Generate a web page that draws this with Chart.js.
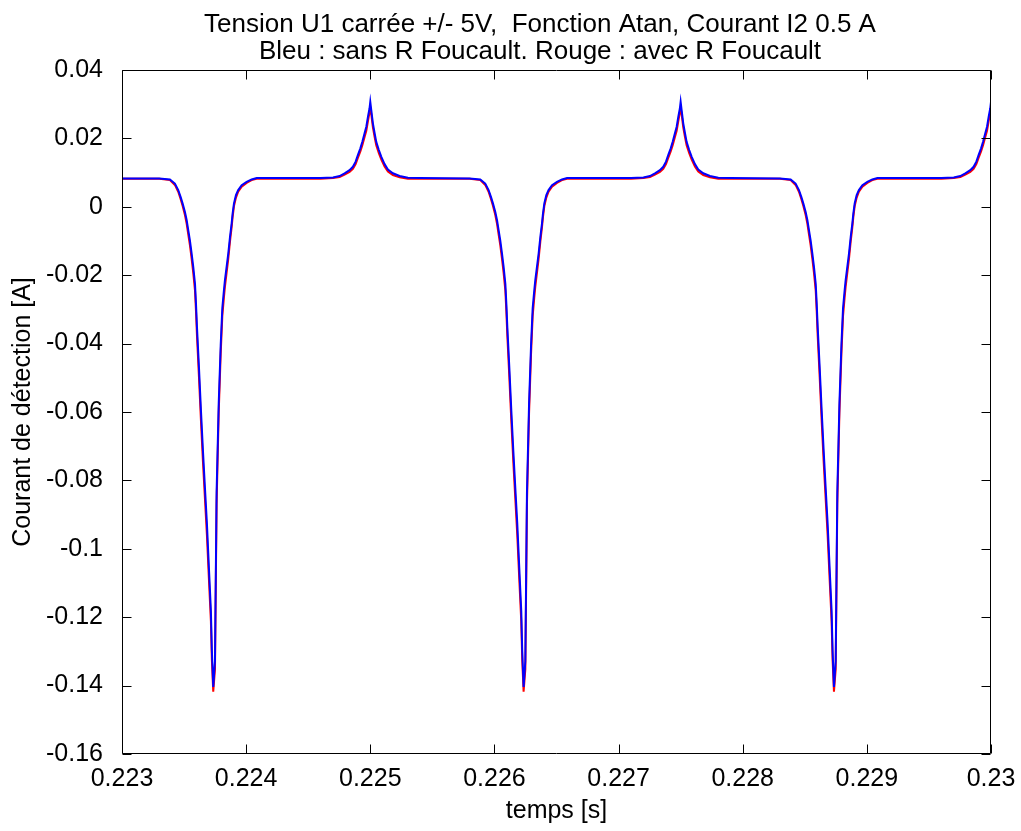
<!DOCTYPE html>
<html>
<head>
<meta charset="utf-8">
<script src="https://cdn.jsdelivr.net/npm/chart.js@4.4.1/dist/chart.umd.min.js"></script>
<style>
  html, body { margin: 0; padding: 0; background: #ffffff; }
  #wrap { width: 1021px; height: 831px; }
</style>
</head>
<body>
<div id="wrap"><canvas id="c" width="1021" height="831"></canvas></div>
<script>
// ---- text ----
const titleLines = [
  'Tension U1 carrée +/- 5V,  Fonction Atan, Courant I2 0.5 A',
  'Bleu : sans R Foucault. Rouge : avec R Foucault'
];
const xAxisTitle = 'temps [s]';
const yAxisTitle = 'Courant de détection [A]';

// ---- axes ----
const xTickValues = [0.223, 0.224, 0.225, 0.226, 0.227, 0.228, 0.229, 0.23];
const xTickLabels = ['0.223', '0.224', '0.225', '0.226', '0.227', '0.228', '0.229', '0.23'];
const yTickValues = [0.04, 0.02, 0, -0.02, -0.04, -0.06, -0.08, -0.1, -0.12, -0.14, -0.16];
const yTickLabels = ['0.04', '0.02', '0', '-0.02', '-0.04', '-0.06', '-0.08', '-0.1', '-0.12', '-0.14', '-0.16'];

// ---- measured current (time in s, current in A) ----
const timeS = [
  0.223000, 0.223300, 0.223386, 0.223426, 0.223453, 0.223472, 0.223488, 0.223507, 0.223521, 0.223534,
  0.223547, 0.223561, 0.223574, 0.223588, 0.223596, 0.223604, 0.223620, 0.223636, 0.223652, 0.223668,
  0.223684, 0.223700, 0.223716, 0.223724, 0.223735, 0.223749, 0.223762, 0.223779, 0.223795, 0.223808,
  0.223821, 0.223829, 0.223856, 0.223870, 0.223883, 0.223891, 0.223902, 0.223918, 0.223936, 0.223964,
  0.224004, 0.224044, 0.224085, 0.224600, 0.224700, 0.224753, 0.224793, 0.224833, 0.224860, 0.224882,
  0.224900, 0.224920, 0.224936, 0.224954, 0.224968, 0.224981, 0.224994, 0.225000, 0.225008, 0.225021,
  0.225035, 0.225048, 0.225069, 0.225089, 0.225115, 0.225142, 0.225182, 0.225236, 0.225303, 0.225400,

  0.225800, 0.225886, 0.225926, 0.225953, 0.225972, 0.225988, 0.226007, 0.226021, 0.226034,
  0.226047, 0.226061, 0.226074, 0.226088, 0.226096, 0.226104, 0.226120, 0.226136, 0.226152, 0.226168,
  0.226184, 0.226200, 0.226216, 0.226224, 0.226235, 0.226249, 0.226262, 0.226279, 0.226295, 0.226308,
  0.226321, 0.226329, 0.226356, 0.226370, 0.226383, 0.226391, 0.226402, 0.226418, 0.226436, 0.226464,
  0.226504, 0.226544, 0.226585, 0.227100, 0.227200, 0.227253, 0.227293, 0.227333, 0.227360, 0.227382,
  0.227400, 0.227420, 0.227436, 0.227454, 0.227468, 0.227481, 0.227494, 0.227500, 0.227508, 0.227521,
  0.227535, 0.227548, 0.227569, 0.227589, 0.227615, 0.227642, 0.227682, 0.227736, 0.227803, 0.227900,

  0.228300, 0.228386, 0.228426, 0.228453, 0.228472, 0.228488, 0.228507, 0.228521, 0.228534,
  0.228547, 0.228561, 0.228574, 0.228588, 0.228596, 0.228604, 0.228620, 0.228636, 0.228652, 0.228668,
  0.228684, 0.228700, 0.228716, 0.228724, 0.228735, 0.228749, 0.228762, 0.228779, 0.228795, 0.228808,
  0.228821, 0.228829, 0.228856, 0.228870, 0.228883, 0.228891, 0.228902, 0.228918, 0.228936, 0.228964,
  0.229004, 0.229044, 0.229085, 0.229600, 0.229700, 0.229753, 0.229793, 0.229833, 0.229860, 0.229882,
  0.229900, 0.229920, 0.229936, 0.229954, 0.229968, 0.229981, 0.229994, 0.230000
];

// without eddy-current resistance
const currentBlue = [
  0.0083, 0.0083, 0.0080, 0.0068, 0.0049, 0.0029, 0.0010, -0.0015, -0.0039, -0.0069,
  -0.0098, -0.0137, -0.0176, -0.0225, -0.0283, -0.0352, -0.0470, -0.0596, -0.0713, -0.0821,
  -0.0926, -0.1055, -0.1181, -0.1298, -0.1404, -0.1328, -0.0836, -0.0575, -0.0405, -0.0297,
  -0.0244, -0.0215, -0.0137, -0.0088, -0.0049, -0.0020, 0.0010, 0.0034, 0.0049, 0.0063,
  0.0073, 0.0080, 0.0084, 0.0084, 0.0086, 0.0090, 0.0098, 0.0107, 0.0117, 0.0132,
  0.0151, 0.0171, 0.0190, 0.0215, 0.0234, 0.0263, 0.0288, 0.0307, 0.0283, 0.0244,
  0.0215, 0.0190, 0.0166, 0.0146, 0.0125, 0.0109, 0.0098, 0.0090, 0.0085, 0.0084,

  0.0083, 0.0080, 0.0068, 0.0049, 0.0029, 0.0010, -0.0015, -0.0039, -0.0069,
  -0.0098, -0.0137, -0.0176, -0.0225, -0.0283, -0.0352, -0.0470, -0.0596, -0.0713, -0.0821,
  -0.0926, -0.1055, -0.1181, -0.1298, -0.1404, -0.1328, -0.0836, -0.0575, -0.0405, -0.0297,
  -0.0244, -0.0215, -0.0137, -0.0088, -0.0049, -0.0020, 0.0010, 0.0034, 0.0049, 0.0063,
  0.0073, 0.0080, 0.0084, 0.0084, 0.0086, 0.0090, 0.0098, 0.0107, 0.0117, 0.0132,
  0.0151, 0.0171, 0.0190, 0.0215, 0.0234, 0.0263, 0.0288, 0.0307, 0.0283, 0.0244,
  0.0215, 0.0190, 0.0166, 0.0146, 0.0125, 0.0109, 0.0098, 0.0090, 0.0085, 0.0084,

  0.0083, 0.0080, 0.0068, 0.0049, 0.0029, 0.0010, -0.0015, -0.0039, -0.0069,
  -0.0098, -0.0137, -0.0176, -0.0225, -0.0283, -0.0352, -0.0470, -0.0596, -0.0713, -0.0821,
  -0.0926, -0.1055, -0.1181, -0.1298, -0.1404, -0.1328, -0.0836, -0.0575, -0.0405, -0.0297,
  -0.0244, -0.0215, -0.0137, -0.0088, -0.0049, -0.0020, 0.0010, 0.0034, 0.0049, 0.0063,
  0.0073, 0.0080, 0.0084, 0.0084, 0.0086, 0.0090, 0.0098, 0.0107, 0.0117, 0.0132,
  0.0151, 0.0171, 0.0190, 0.0215, 0.0234, 0.0263, 0.0288, 0.0307
];

// with eddy-current resistance
const currentRed = [
  0.0082, 0.0082, 0.0078, 0.0064, 0.0044, 0.0023, 0.0003, -0.0024, -0.0050, -0.0081,
  -0.0112, -0.0152, -0.0193, -0.0245, -0.0305, -0.0378, -0.0498, -0.0626, -0.0745, -0.0853,
  -0.0960, -0.1088, -0.1212, -0.1325, -0.1418, -0.1352, -0.0868, -0.0603, -0.0430, -0.0320,
  -0.0265, -0.0234, -0.0152, -0.0101, -0.0060, -0.0030, 0.0002, 0.0027, 0.0044, 0.0059,
  0.0070, 0.0078, 0.0082, 0.0082, 0.0084, 0.0087, 0.0094, 0.0102, 0.0111, 0.0125,
  0.0143, 0.0162, 0.0180, 0.0204, 0.0222, 0.0250, 0.0276, 0.0290, 0.0270, 0.0232,
  0.0204, 0.0180, 0.0157, 0.0138, 0.0118, 0.0103, 0.0093, 0.0086, 0.0082, 0.0082,

  0.0082, 0.0078, 0.0064, 0.0044, 0.0023, 0.0003, -0.0024, -0.0050, -0.0081,
  -0.0112, -0.0152, -0.0193, -0.0245, -0.0305, -0.0378, -0.0498, -0.0626, -0.0745, -0.0853,
  -0.0960, -0.1088, -0.1212, -0.1325, -0.1418, -0.1352, -0.0868, -0.0603, -0.0430, -0.0320,
  -0.0265, -0.0234, -0.0152, -0.0101, -0.0060, -0.0030, 0.0002, 0.0027, 0.0044, 0.0059,
  0.0070, 0.0078, 0.0082, 0.0082, 0.0084, 0.0087, 0.0094, 0.0102, 0.0111, 0.0125,
  0.0143, 0.0162, 0.0180, 0.0204, 0.0222, 0.0250, 0.0276, 0.0290, 0.0270, 0.0232,
  0.0204, 0.0180, 0.0157, 0.0138, 0.0118, 0.0103, 0.0093, 0.0086, 0.0082, 0.0082,

  0.0082, 0.0078, 0.0064, 0.0044, 0.0023, 0.0003, -0.0024, -0.0050, -0.0081,
  -0.0112, -0.0152, -0.0193, -0.0245, -0.0305, -0.0378, -0.0498, -0.0626, -0.0745, -0.0853,
  -0.0960, -0.1088, -0.1212, -0.1325, -0.1418, -0.1352, -0.0868, -0.0603, -0.0430, -0.0320,
  -0.0265, -0.0234, -0.0152, -0.0101, -0.0060, -0.0030, 0.0002, 0.0027, 0.0044, 0.0059,
  0.0070, 0.0078, 0.0082, 0.0082, 0.0084, 0.0087, 0.0094, 0.0102, 0.0111, 0.0125,
  0.0143, 0.0162, 0.0180, 0.0204, 0.0222, 0.0250, 0.0276, 0.0290
];

const FONT_FAMILY = "'Liberation Sans', Arial, Helvetica, sans-serif";
Chart.defaults.font.family = FONT_FAMILY;
Chart.defaults.color = '#000000';

const toPoints = (vals) => timeS.map((t, i) => ({ x: t, y: vals[i] }));

// two-line title above the axes box
const titlePlugin = {
  id: 'twoLineTitle',
  afterDraw(chart) {
    const ctx = chart.ctx;
    ctx.save();
    ctx.fillStyle = '#000';
    ctx.font = '26px ' + FONT_FAMILY;
    ctx.textAlign = 'center';
    ctx.textBaseline = 'alphabetic';
    ctx.fillText(titleLines[0], 540, 32);
    ctx.fillText(titleLines[1], 540, 59);
    ctx.restore();
  }
};

// box frame with inward tick marks on all four sides
const framePlugin = {
  id: 'boxFrame',
  afterDatasetsDraw(chart) {
    const { ctx, chartArea: a, scales: { x, y } } = chart;
    const L = Math.round(a.left) + 0.5, R = Math.round(a.right) - 0.5;
    const T = Math.round(a.top) + 0.5, B = Math.round(a.bottom) - 0.5;
    const tl = 9;
    ctx.save();
    ctx.strokeStyle = '#000';
    ctx.lineWidth = 1;
    ctx.beginPath();
    ctx.rect(L, T, R - L, B - T);
    x.ticks.forEach(t => {
      const px = Math.round(x.getPixelForValue(t.value)) + 0.5;
      ctx.moveTo(px, B); ctx.lineTo(px, B - tl);
      ctx.moveTo(px, T); ctx.lineTo(px, T + tl);
    });
    y.ticks.forEach(t => {
      const py = Math.round(y.getPixelForValue(t.value)) + 0.5;
      ctx.moveTo(L, py); ctx.lineTo(L + tl, py);
      ctx.moveTo(R, py); ctx.lineTo(R - tl, py);
    });
    ctx.stroke();
    ctx.restore();
  }
};

new Chart(document.getElementById('c'), {
  type: 'line',
  data: {
    datasets: [
      {
        label: 'sans R Foucault',
        data: toPoints(currentBlue),
        borderColor: '#0000ff',
        borderWidth: 2,
        pointRadius: 0,
        tension: 0,
        fill: false
      },
      {
        label: 'avec R Foucault',
        data: toPoints(currentRed),
        borderColor: '#ff0000',
        borderWidth: 2,
        pointRadius: 0,
        tension: 0,
        fill: false
      }
    ]
  },
  options: {
    responsive: false,
    animation: false,
    devicePixelRatio: 1,
    layout: { padding: { top: 70, right: 30, bottom: 0, left: 0 } },
    plugins: { legend: { display: false }, tooltip: { enabled: false }, title: { display: false } },
    scales: {
      x: {
        type: 'linear',
        min: 0.223,
        max: 0.23,
        grid: { display: false },
        border: { display: false },
        afterBuildTicks: (s) => { s.ticks = xTickValues.map(v => ({ value: v })); },
        afterFit: (s) => { s.height = 77; s.paddingLeft = 0; s.paddingRight = 0; },
        ticks: {
          autoSkip: false,
          maxRotation: 0,
          padding: 2,
          font: { size: 25 },
          color: '#000',
          callback: (v, i) => xTickLabels[i]
        },
        title: {
          display: true,
          text: xAxisTitle,
          font: { size: 25 },
          color: '#000',
          padding: { top: 0, bottom: 5 }
        }
      },
      y: {
        type: 'linear',
        min: -0.16,
        max: 0.04,
        grid: { display: false },
        border: { display: false },
        afterBuildTicks: (s) => { s.ticks = yTickValues.map(v => ({ value: v })); },
        afterFit: (s) => { s.width = 122; s.paddingTop = 0; s.paddingBottom = 0; },
        ticks: {
          padding: 11,
          font: { size: 25 },
          color: '#000',
          callback: (v, i) => yTickLabels[i]
        },
        title: {
          display: true,
          text: yAxisTitle,
          font: { size: 25 },
          color: '#000',
          padding: { top: 8, bottom: 0 }
        }
      }
    }
  },
  plugins: [titlePlugin, framePlugin]
});
</script>
</body>
</html>
